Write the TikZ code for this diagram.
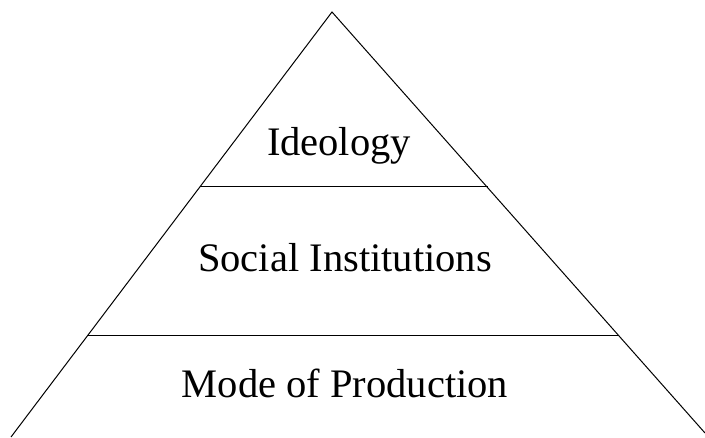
\documentclass[tikz,border=0pt]{standalone}
\usepackage{fontspec}
\setmainfont{Liberation Serif}
\begin{document}
\begin{tikzpicture}[x=1pt,y=-1pt,
  edge/.style={draw=black,line width=1pt},
  label/.style={font=\fontsize{40.5}{48}\selectfont,anchor=base,inner sep=0pt}]
\useasboundingbox (0,0) rectangle (705,438);
\coordinate (apex) at (332,12);
\coordinate (bl) at (11,437);
\coordinate (br) at (705,433);
\coordinate (l1) at (199.5,187);
\coordinate (r1) at (487.5,187);
\coordinate (l2) at (87,336);
\coordinate (r2) at (619,336);
\draw[edge] (bl) -- (apex) -- (br);
\draw[edge] (l1) -- (r1);
\draw[edge] (l2) -- (r2);
\node[label] (ideo) at (339,156) {Ideology};
\node[label] (soc) at (345,272) {Social Institutions};
\node[label] (mode) at (345,398) {Mode of Production};
\end{tikzpicture}
\end{document}
